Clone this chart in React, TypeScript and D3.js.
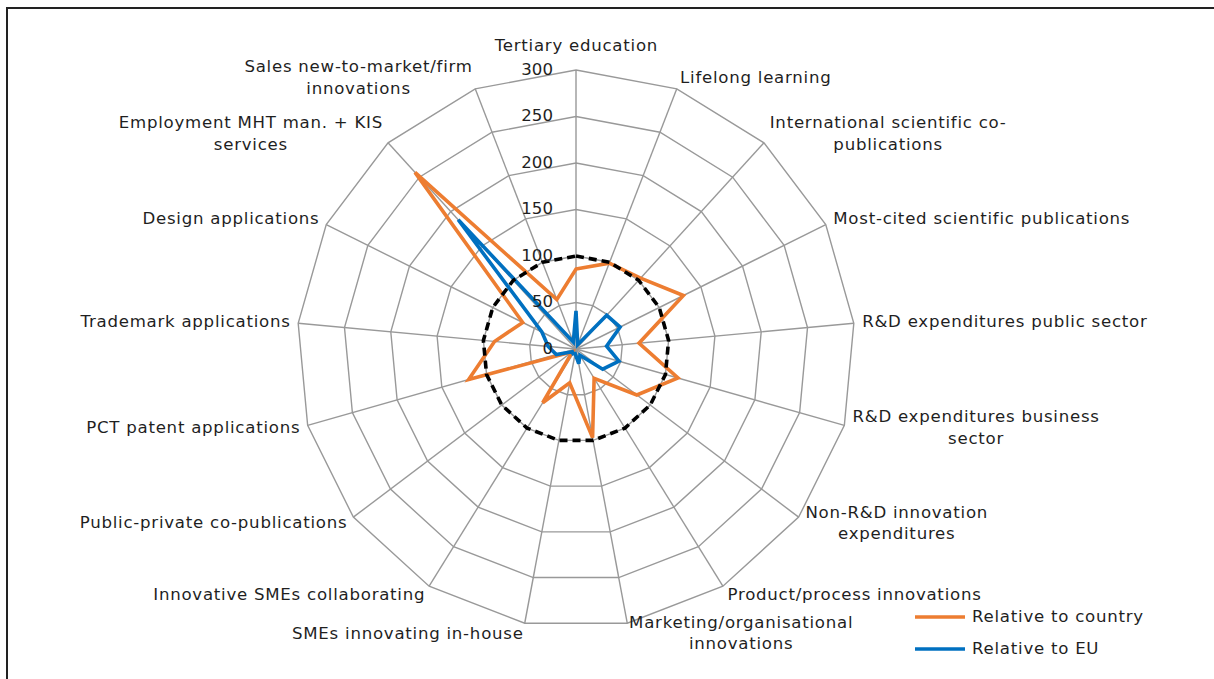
import React from "react";
import * as d3 from "d3";

// indicator names ("\n" = line break as in the original chart)
const categories = [
  "Tertiary education",
  "Lifelong learning",
  "International scientific co-\npublications",
  "Most-cited scientific publications",
  "R&D expenditures public sector",
  "R&D expenditures business\nsector",
  "Non-R&D innovation\nexpenditures",
  "Product/process innovations",
  "Marketing/organisational\ninnovations",
  "SMEs innovating in-house",
  "Innovative SMEs collaborating",
  "Public-private co-publications",
  "PCT patent applications",
  "Trademark applications",
  "Design applications",
  "Employment MHT man. + KIS\nservices",
  "Sales new-to-market/firm\ninnovations",
];

const relCountry = [86, 99, 103, 129, 68, 114, 82, 37, 97, 37, 68, 5, 120, 88, 64, 257, 57];
const relEU = [41, 5, 49, 53, 33, 48, 36, 8, 16, 5, 6, 5, 22, 30, 41, 188, 8];
const benchmark = [100, 100, 100, 100, 100, 100, 100, 100, 100, 100, 100, 100, 100, 100, 100, 100, 100];
const ticks = [0, 50, 100, 150, 200, 250, 300];

const seriesNames = ["Relative to country", "Relative to EU"];
const seriesColors = ["#ED7D31", "#0070C0"];

const W = 1214;
const H = 679;
const cx = 576;
const cy = 349;
const FS = 16.6;
const LS = 0.75; // widen DejaVu a bit towards Verdana metrics
const FONT = '"DejaVu Sans", Verdana, sans-serif';
const textColor = "#1f1f1f";

let ctx: CanvasRenderingContext2D | null = null;
function textWidth(t: string) {
  if (!ctx) ctx = document.createElement("canvas").getContext("2d");
  ctx!.font = `${FS}px ${FONT}`;
  return ctx!.measureText(t).width + LS * t.length;
}

export default function App() {
  const n = categories.length;
  const r = d3.scaleLinear().domain([0, 300]).range([0, 279]);
  const ang = (i: number) => (i * 2 * Math.PI) / n;

  const radial = (vals: number[]) =>
    d3
      .lineRadial<number>()
      .angle((_, i) => ang(i))
      .radius((v) => r(v))
      .curve(d3.curveLinearClosed)(vals) as string;

  const ring = (v: number) => radial(categories.map(() => v));
  const lineH = 21.5;

  return (
    <div style={{ position: "absolute", left: 0, top: 0 }}>
      <svg width={W} height={H} style={{ display: "block", fontFamily: FONT }}>
        <rect width={W} height={H} fill="#fff" />
        <path d={`M7,${H} V8 H${W}`} fill="none" stroke="#222" strokeWidth={2} />
        <g transform={`translate(${cx},${cy})`}>
          {/* grid */}
          {ticks.slice(1).map((t) => (
            <path key={t} d={ring(t)} fill="none" stroke="#999" strokeWidth={1.4} />
          ))}
          {categories.map((_, i) => (
            <line
              key={i}
              x1={0}
              y1={0}
              x2={r(300) * Math.sin(ang(i))}
              y2={-r(300) * Math.cos(ang(i))}
              stroke="#999"
              strokeWidth={1.4}
            />
          ))}
          {/* series */}
          <path d={radial(relCountry)} fill="none" stroke={seriesColors[0]} strokeWidth={3.6} />
          <path d={radial(relEU)} fill="none" stroke={seriesColors[1]} strokeWidth={3.6} />
          <path d={radial(benchmark)} fill="none" stroke="#000" strokeWidth={3.6} strokeDasharray="8 5" />
          {/* tick labels */}
          {ticks.map((t) => (
            <text
              key={t}
              x={-23}
              y={-r(t)}
              textAnchor="end"
              dominantBaseline="middle"
              fontSize={FS}
              fill={textColor}
            >
              {t}
            </text>
          ))}
          {/* category labels */}
          {categories.map((c, i) => {
            const s = Math.sin(ang(i));
            const co = Math.cos(ang(i));
            const vx = r(300) * s;
            const vy = -r(300) * co;
            const lines = c.split("\n");
            const w = d3.max(lines, (l) => textWidth(l)) as number;
            const h = lines.length * lineH;
            let mid: number;
            if (Math.abs(s) < 0.05) mid = vx;
            else if (s > 0) mid = vx + 8 * s + w / 2;
            else mid = vx + 8 * s - w / 2;
            const boxCy = Math.abs(s) < 0.05 && co > 0 ? vy - h / 2 - 13 : vy - 11 * co;
            const y0 = boxCy - ((lines.length - 1) * lineH) / 2;
            return (
              <text key={i} fontSize={FS} fill={textColor} textAnchor="middle" letterSpacing={LS}>
                {lines.map((l, k) => (
                  <tspan key={k} x={mid + LS / 2} y={y0 + k * lineH} dominantBaseline="middle">
                    {l}
                  </tspan>
                ))}
              </text>
            );
          })}
        </g>
        {/* legend */}
        {seriesNames.map((name, i) => (
          <g key={name} transform={`translate(915,${617 + i * 32})`}>
            <line x1={0} x2={50} y1={0} y2={0} stroke={seriesColors[i]} strokeWidth={3.6} />
            <text x={57} y={0} dominantBaseline="middle" fontSize={FS} fill={textColor} letterSpacing={LS}>
              {name}
            </text>
          </g>
        ))}
      </svg>
    </div>
  );
}
